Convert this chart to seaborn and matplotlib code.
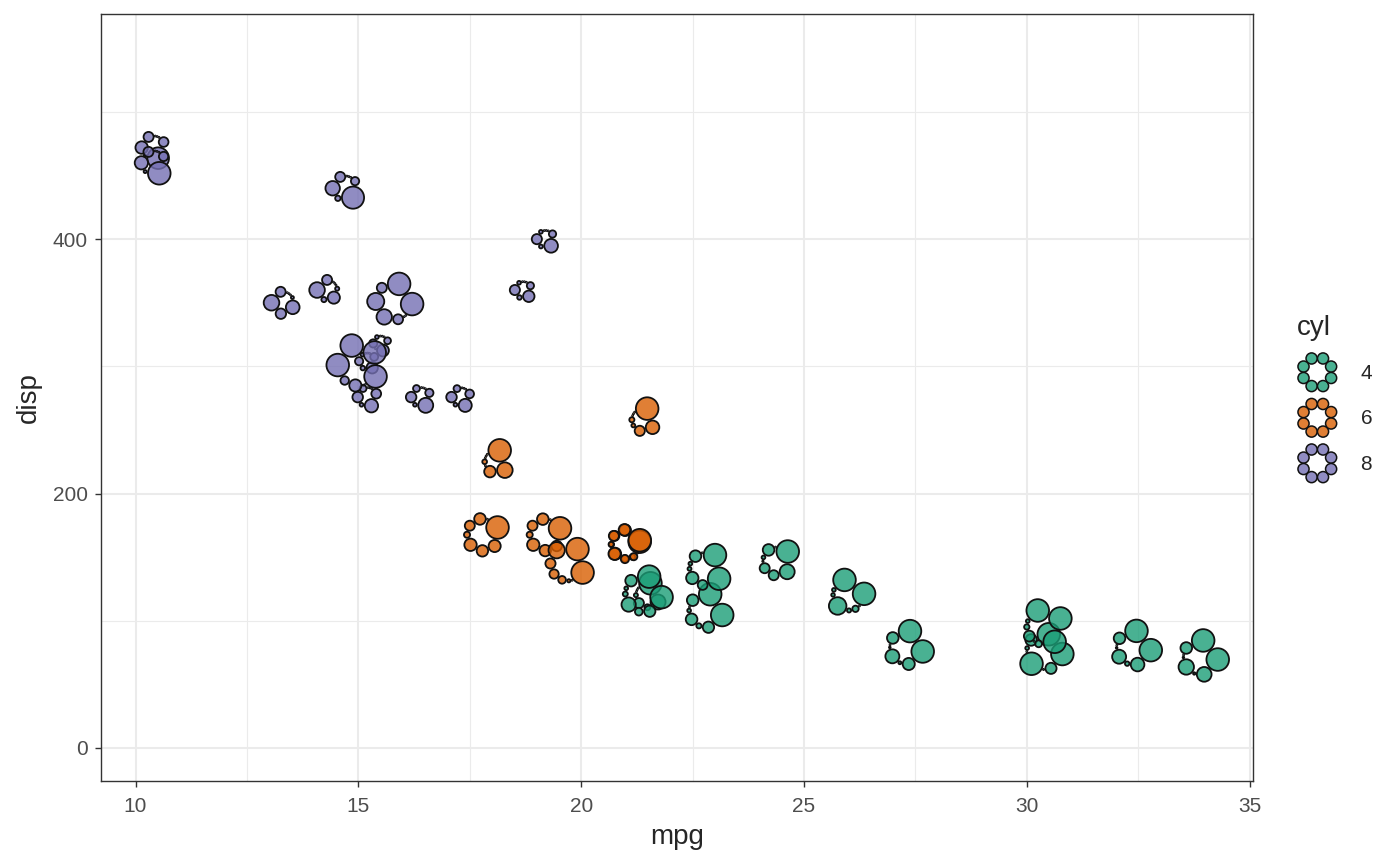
import numpy as np
import pandas as pd
import matplotlib
matplotlib.use("Agg")
import matplotlib.pyplot as plt
import seaborn as sns
from matplotlib.patches import Circle, Patch
from matplotlib.legend_handler import HandlerBase
from matplotlib.ticker import MultipleLocator

# mtcars
mpg = [21.0, 21.0, 22.8, 21.4, 18.7, 18.1, 14.3, 24.4, 22.8, 19.2, 17.8, 16.4, 17.3, 15.2, 10.4, 10.4,
       14.7, 32.4, 30.4, 33.9, 21.5, 15.5, 15.2, 13.3, 19.2, 27.3, 26.0, 30.4, 15.8, 19.7, 15.0, 21.4]
cyl = [6, 6, 4, 6, 8, 6, 8, 4, 4, 6, 6, 8, 8, 8, 8, 8, 8, 4, 4, 4, 4, 8, 8, 8, 8, 4, 4, 4, 8, 6, 8, 4]
disp = [160, 160, 108, 258, 360, 225, 360, 146.7, 140.8, 167.6, 167.6, 275.8, 275.8, 275.8, 472, 460,
        440, 78.7, 75.7, 71.1, 120.1, 318, 304, 350, 400, 79, 120.3, 95.1, 351, 145, 301, 121]
hp = [110, 110, 93, 110, 175, 105, 245, 62, 95, 123, 123, 180, 180, 180, 205, 215,
      230, 66, 52, 65, 97, 150, 150, 245, 175, 66, 91, 113, 264, 175, 335, 109]
drat = [3.90, 3.90, 3.85, 3.08, 3.15, 2.76, 3.21, 3.69, 3.92, 3.92, 3.92, 3.07, 3.07, 3.07, 2.93, 3.00,
        3.23, 4.08, 4.93, 4.22, 3.70, 2.76, 3.15, 3.73, 3.08, 4.08, 4.43, 3.77, 4.22, 3.62, 3.54, 4.11]
wt = [2.620, 2.875, 2.320, 3.215, 3.440, 3.460, 3.570, 3.190, 3.150, 3.440, 3.440, 4.070, 3.730, 3.780, 5.250, 5.424,
      5.345, 2.200, 1.615, 1.835, 2.465, 3.520, 3.435, 3.840, 3.845, 1.935, 2.140, 1.513, 3.170, 2.770, 3.570, 2.780]
qsec = [16.46, 17.02, 18.61, 19.44, 17.02, 20.22, 15.84, 20.00, 22.90, 18.30, 18.90, 17.40, 17.60, 18.00, 17.98, 17.82,
        17.42, 19.47, 18.52, 19.90, 20.01, 16.87, 17.30, 15.41, 17.05, 18.90, 16.70, 16.90, 14.50, 15.50, 14.60, 18.60]
vs = [0, 0, 1, 1, 0, 1, 0, 1, 1, 1, 1, 0, 0, 0, 0, 0, 0, 1, 1, 1, 1, 0, 0, 0, 0, 1, 0, 1, 0, 0, 0, 1]
am = [1, 1, 1, 0, 0, 0, 0, 0, 0, 0, 0, 0, 0, 0, 0, 0, 0, 1, 1, 1, 0, 0, 0, 0, 0, 1, 1, 1, 1, 1, 1, 1]
gear = [4, 4, 4, 3, 3, 3, 3, 4, 4, 4, 4, 3, 3, 3, 3, 3, 3, 4, 4, 4, 3, 3, 3, 3, 3, 4, 5, 5, 5, 5, 5, 4]
carb = [4, 4, 1, 1, 2, 1, 4, 2, 2, 4, 4, 3, 3, 3, 4, 4, 4, 1, 2, 1, 1, 2, 2, 4, 2, 1, 2, 2, 4, 6, 8, 2]

glyph_vars = {"hp": hp, "drat": drat, "wt": wt, "qsec": qsec,
              "vs": vs, "am": am, "gear": gear, "carb": carb}
cyl_levels = ["4", "6", "8"]
cyl_colors = {"4": "#1B9E77", "6": "#D95F02", "8": "#7570B3"}

R_MIN, R_MAX = 1.0, 12.0   # glyph circle radius in px


def rescale(v):
    v = np.asarray(v, dtype=float)
    return (v - v.min()) / (v.max() - v.min())


def ring_layout(radii):
    # circles touching each other around a ring, first one on the left
    pair = radii + np.roll(radii, -1)
    lo, hi = pair.max() / 2 + 1e-6, 500.0
    for _ in range(80):
        mid = (lo + hi) / 2
        tot = np.sum(2 * np.arcsin(np.clip(pair / (2 * mid), -1, 1)))
        if tot > 2 * np.pi:
            lo = mid
        else:
            hi = mid
    R = (lo + hi) / 2
    seps = 2 * np.arcsin(np.clip(pair / (2 * R), -1, 1))
    ang = np.pi + np.concatenate([[0], np.cumsum(seps[:-1])])
    return R, ang


sns.set_style("white")
plt.rcParams["font.family"] = ["Liberation Sans", "DejaVu Sans"]

fig = plt.figure(figsize=(14, 8.66), dpi=100)
ax = fig.add_axes([101 / 1400, 85 / 866, 1152 / 1400, 767 / 866])
ax.set_xlim(9.225, 35.075)
ax.set_ylim(-26, 577)

scaled = np.column_stack([rescale(v) for v in glyph_vars.values()])
centers = ax.transData.transform(np.column_stack([mpg, disp]))
inv = ax.transData.inverted()

rows = []
for i in range(len(mpg)):
    radii = R_MIN + scaled[i] * (R_MAX - R_MIN)
    R, ang = ring_layout(radii)
    pts = centers[i] + np.column_stack([R * np.cos(ang), R * np.sin(ang)])
    gxy = inv.transform(pts)
    for k, name in enumerate(glyph_vars):
        r_draw = max(radii[k] - 0.7, 0.5)
        rows.append({"gx": gxy[k, 0], "gy": gxy[k, 1], "cyl": str(cyl[i]),
                     "area": (2 * r_draw * 0.72) ** 2})
glyphs = pd.DataFrame(rows)

amin, amax = glyphs["area"].min(), glyphs["area"].max()
sns.scatterplot(data=glyphs, x="gx", y="gy", hue="cyl", hue_order=cyl_levels,
                palette=cyl_colors, size="area", sizes=(amin, amax), size_norm=(amin, amax),
                edgecolor="#111111", linewidth=1.3, legend=False, ax=ax, zorder=3)
for coll in ax.collections:
    fc = coll.get_facecolors()
    fc[:, 3] = 0.8
    coll.set_facecolor(fc)

ax.set_xlim(9.225, 35.075)
ax.set_ylim(-26, 577)
ax.xaxis.set_major_locator(MultipleLocator(5))
ax.xaxis.set_minor_locator(MultipleLocator(2.5))
ax.yaxis.set_major_locator(MultipleLocator(200))
ax.yaxis.set_minor_locator(MultipleLocator(100))
ax.grid(which="major", color="#EBEBEB", linewidth=1.5)
ax.grid(which="minor", color="#EBEBEB", linewidth=0.8)
ax.set_axisbelow(True)
ax.tick_params(which="major", length=4.5, width=1.0, color="#333333",
               labelcolor="#4D4D4D", labelsize=15, left=True, bottom=True)
ax.tick_params(axis="x", which="major", pad=7)
ax.tick_params(axis="y", which="major", pad=5)
ax.tick_params(which="minor", length=0)
for sp in ax.spines.values():
    sp.set_color("#333333")
    sp.set_linewidth(1.0)
ax.set_xlabel("mpg", fontsize=20, labelpad=6)
ax.set_ylabel("disp", fontsize=20, labelpad=8)


class RingHandler(HandlerBase):
    def create_artists(self, legend, orig_handle, xdescent, ydescent, width, height, fontsize, trans):
        cx, cy = width / 2 - xdescent, height / 2 - ydescent
        r = 4.0
        R = r / np.sin(np.pi / 8) + 0.3
        fc = orig_handle.get_facecolor()
        out = []
        for k in range(8):
            a = np.pi / 8 + k * np.pi / 4
            c = Circle((cx + R * np.cos(a), cy + R * np.sin(a)), r, facecolor=(fc[0], fc[1], fc[2], 0.8),
                       edgecolor="#111111", linewidth=1.1, transform=trans)
            out.append(c)
        return out


handles = [Patch(facecolor=cyl_colors[c], label=c) for c in cyl_levels]
leg = fig.legend(handles=handles, title="cyl", loc="upper left",
                 bbox_to_anchor=(1297 / 1400, 1 - 315 / 866), frameon=False,
                 handler_map={Patch: RingHandler()}, fontsize=15, title_fontsize=20,
                 handlelength=1.95, handleheight=2.6, labelspacing=0.25, handletextpad=1.1,
                 borderpad=0, borderaxespad=0, alignment="left")
leg._legend_box.sep = 8

fig.savefig("out.png", dpi=100)
